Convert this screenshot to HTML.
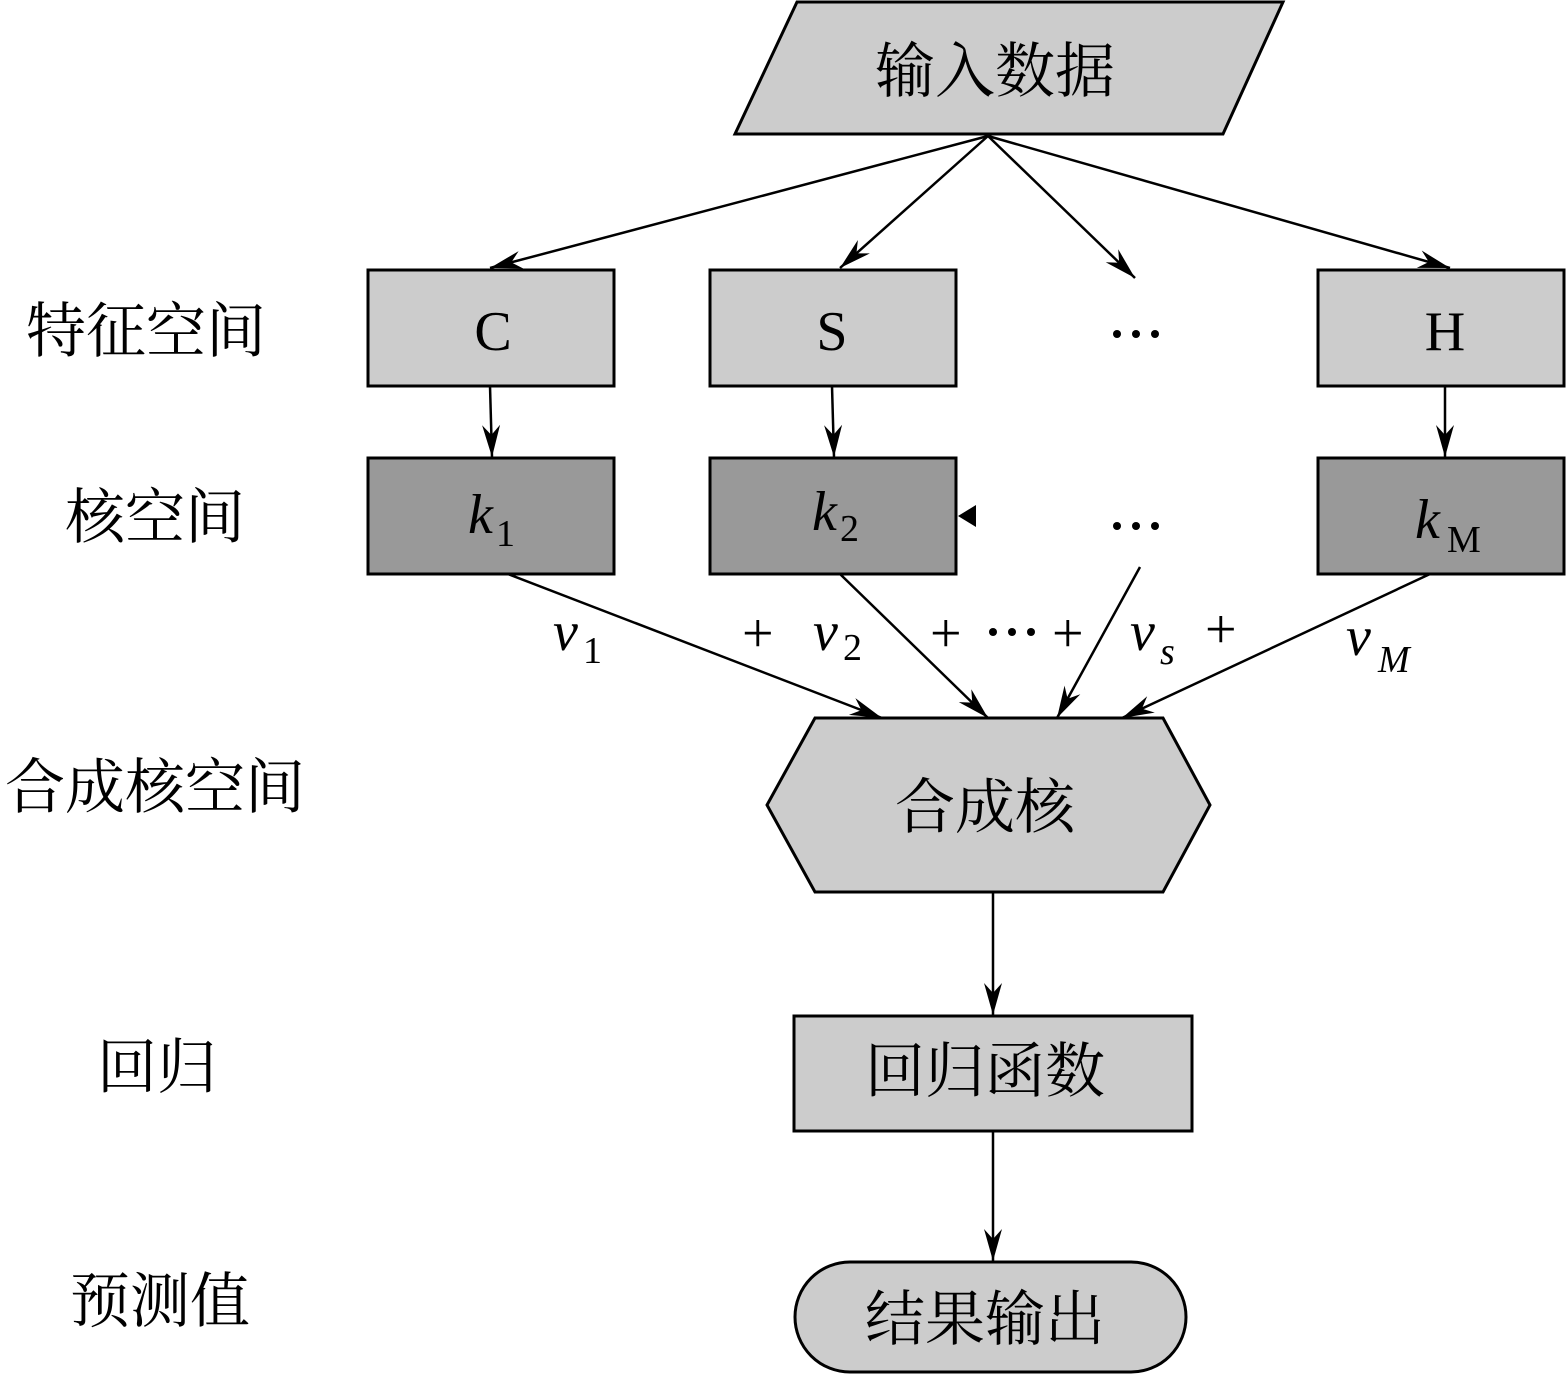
<!DOCTYPE html>
<html><head><meta charset="utf-8"><style>
html,body{margin:0;padding:0;background:#fff;}
svg{display:block;}
.cj{font-family:"Liberation Serif","Noto Serif CJK SC",serif;font-size:60px;fill:#000;}
.lt{font-family:"Liberation Serif",serif;fill:#000;}
</style></head><body>
<svg width="1566" height="1377" viewBox="0 0 1566 1377" xmlns="http://www.w3.org/2000/svg">
<defs>
<marker id="a" markerUnits="userSpaceOnUse" markerWidth="40" markerHeight="30" refX="0" refY="0" viewBox="-34 -15 40 30" orient="auto">
<path d="M0,0 L-32,-9 L-22,0 L-32,9 z" fill="#000"/>
</marker>
</defs>
<g stroke="#000" stroke-width="3">
<polygon points="797,2 1283,2 1223,134 735,134" fill="#cccccc"/>
<rect x="368" y="270" width="246" height="116" fill="#cccccc"/>
<rect x="710" y="270" width="246" height="116" fill="#cccccc"/>
<rect x="1318" y="270" width="246" height="116" fill="#cccccc"/>
<rect x="368" y="458" width="246" height="116" fill="#999999"/>
<rect x="710" y="458" width="246" height="116" fill="#999999"/>
<rect x="1318" y="458" width="246" height="116" fill="#999999"/>
<polygon points="815,718 1163,718 1210,805 1163,892 815,892 767,805" fill="#cccccc"/>
<rect x="794" y="1016" width="398" height="115" fill="#cccccc"/>
<rect x="795" y="1262" width="391" height="110" rx="55" ry="55" fill="#cccccc"/>
</g>
<g stroke="#000" stroke-width="2.5" fill="none" marker-end="url(#a)">
<line x1="988" y1="136" x2="490" y2="268"/>
<line x1="988" y1="136" x2="840" y2="268"/>
<line x1="988" y1="136" x2="1135" y2="278"/>
<line x1="988" y1="136" x2="1450" y2="268"/>
<line x1="490" y1="386" x2="492" y2="457"/>
<line x1="832" y1="386" x2="834" y2="457"/>
<line x1="1445" y1="386" x2="1445" y2="457"/>
<line x1="508" y1="574" x2="882" y2="718"/>
<line x1="840" y1="574" x2="988" y2="718"/>
<line x1="1140" y1="567" x2="1057" y2="718"/>
<line x1="1430" y1="574" x2="1122" y2="718"/>
<line x1="993" y1="892" x2="993" y2="1015"/>
<line x1="993" y1="1131" x2="993" y2="1261"/>
</g>
<polygon points="958,516 976,505 976,527" fill="#000"/>
<text class="cj" x="995" y="92" text-anchor="middle">输入数据</text>
<text class="cj" x="985" y="828" text-anchor="middle">合成核</text>
<text class="cj" x="985" y="1092" text-anchor="middle">回归函数</text>
<text class="cj" x="985" y="1340" text-anchor="middle">结果输出</text>
<text class="cj" x="146" y="352" text-anchor="middle">特征空间</text>
<text class="cj" x="155" y="538" text-anchor="middle">核空间</text>
<text class="cj" x="155" y="808" text-anchor="middle">合成核空间</text>
<text class="cj" x="157" y="1088" text-anchor="middle">回归</text>
<text class="cj" x="160" y="1322" text-anchor="middle">预测值</text>
<g class="lt" font-size="56" text-anchor="middle">
<text x="493" y="350">C</text>
<text x="832" y="350">S</text>
<text x="1445" y="350">H</text>
</g>
<g fill="#000">
<circle cx="1117" cy="334" r="4"/><circle cx="1136" cy="334" r="4"/><circle cx="1155" cy="334" r="4"/>
<circle cx="1117" cy="526" r="4"/><circle cx="1136" cy="526" r="4"/><circle cx="1155" cy="526" r="4"/>
<circle cx="993" cy="632" r="4"/><circle cx="1012" cy="632" r="4"/><circle cx="1031" cy="632" r="4"/>
</g>
<g class="lt" font-size="56">
<text x="468" y="533" font-style="italic">k</text><text x="496" y="546" font-size="38">1</text>
<text x="812" y="530" font-style="italic">k</text><text x="840" y="541" font-size="38">2</text>
<text x="1415" y="538" font-style="italic">k</text><text x="1447" y="552" font-size="38">M</text>
<text x="553" y="650" font-style="italic">v</text><text x="583" y="663" font-size="38">1</text>
<text x="742" y="652">+</text>
<text x="813" y="650" font-style="italic">v</text><text x="843" y="660" font-size="38">2</text>
<text x="930" y="652">+</text>
<text x="1052" y="652">+</text>
<text x="1130" y="650" font-style="italic">v</text><text x="1160" y="664" font-size="38" font-style="italic">s</text>
<text x="1205" y="648">+</text>
<text x="1346" y="655" font-style="italic">v</text><text x="1378" y="672" font-size="38" font-style="italic">M</text>
</g>
</svg>
</body></html>
